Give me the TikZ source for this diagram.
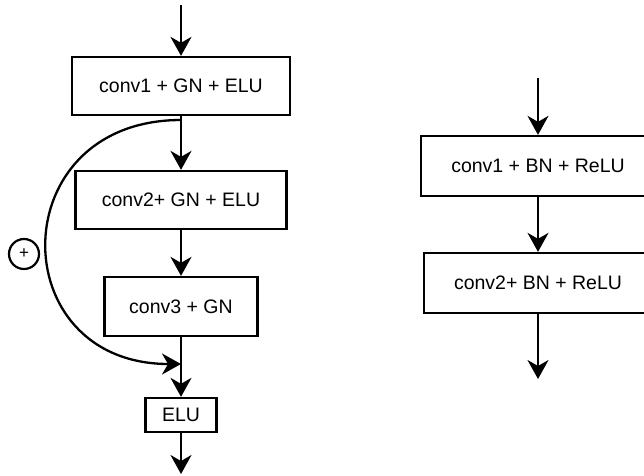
\documentclass[tikz,border=0pt]{standalone}
\usepackage{fontspec}
\setmainfont{Liberation Sans}
\usetikzlibrary{arrows.meta}

\begin{document}
\begin{tikzpicture}[x=1pt,y=-1pt,line width=2.3pt,>={Stealth[length=19pt,width=21pt,inset=6pt]},
    blk/.style={draw,rectangle,inner sep=0pt,font=\fontsize{19.5}{22}\selectfont}]
    \useasboundingbox (0,0) rectangle (644,475);
    % left column
    \coordinate (IN) at (181,5);
    \node[blk,minimum width=218pt,minimum height=58pt] (C1) at (181,86) {conv1 + GN + ELU};
    \node[blk,minimum width=211pt,minimum height=58pt] (C2) at (181,200) {conv2+ GN + ELU};
    \node[blk,minimum width=153pt,minimum height=59pt] (C3) at (181,306.5) {conv3 + GN};
    \node[blk,minimum width=71pt,minimum height=34pt] (E) at (181,415) {ELU};
    \coordinate (OUT) at (181,474);
    \coordinate (S) at (181,120); \coordinate (J) at (181,364);
    \node[draw,circle,minimum size=30pt,inner sep=0pt,line width=2.2pt,font=\fontsize{17}{17}\selectfont] (P) at (24,254) {+};
    \draw[->] (IN) -- (C1); \draw[->] (C1) -- (C2); \draw[->] (C2) -- (C3);
    \draw[->] (C3) -- (E); \draw[->] (E) -- (OUT);
    \draw[->] (S) .. controls (2,120) and (2,364) .. (J);
    % right column
    \coordinate (RIN) at (538,78);
    \node[blk,minimum width=234pt,minimum height=60pt] (R1) at (538,166) {conv1 + BN + ReLU};
    \node[blk,minimum width=228pt,minimum height=60pt] (R2) at (538,283) {conv2+ BN + ReLU};
    \coordinate (ROUT) at (538,379);
    \draw[->] (RIN) -- (R1); \draw[->] (R1) -- (R2); \draw[->] (R2) -- (ROUT);
\end{tikzpicture}
\end{document}
